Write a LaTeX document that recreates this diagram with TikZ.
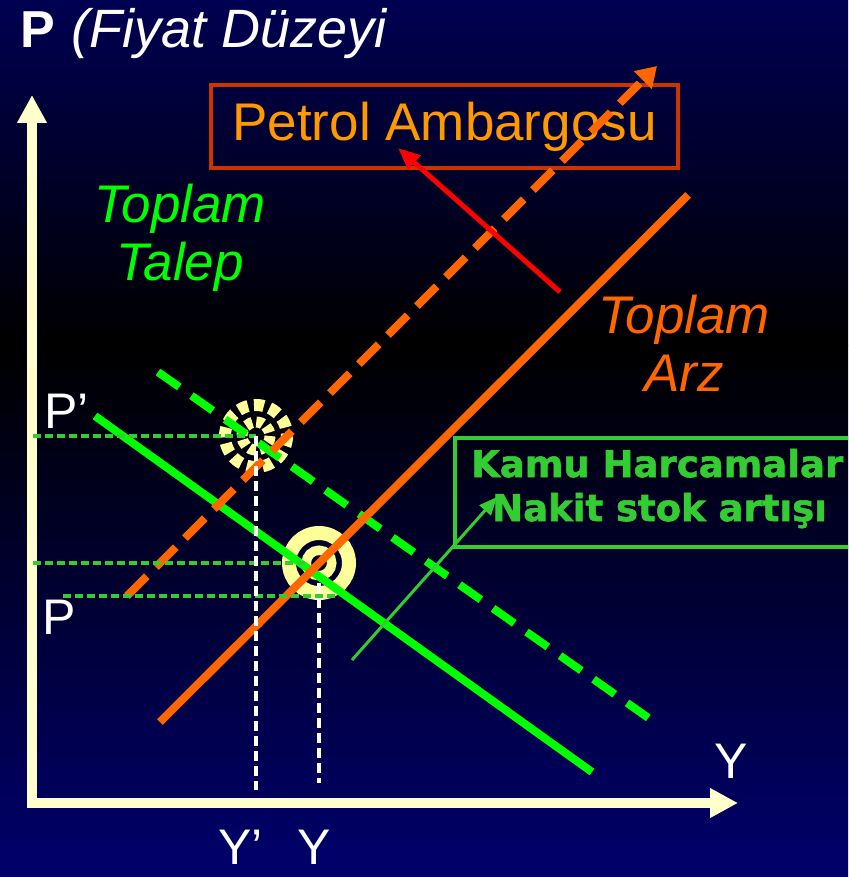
\documentclass[tikz,border=0pt]{standalone}
\usepackage{fontspec}
\setmainfont{Liberation Sans}
\newfontfamily\kamufont[FakeBold=1.5]{DejaVu Sans Bold}
\usetikzlibrary{arrows.meta}
\definecolor{navytop}{RGB}{0,0,82}
\definecolor{navybot}{RGB}{0,0,108}
\definecolor{cream}{RGB}{255,255,204}
\definecolor{ringyellow}{RGB}{255,255,153}
\definecolor{brightgreen}{RGB}{0,255,0}
\definecolor{kamugreen}{RGB}{51,204,51}
\definecolor{arzorange}{RGB}{255,102,0}
\definecolor{petrolorange}{RGB}{255,153,0}
\definecolor{boxred}{RGB}{204,51,0}

\begin{document}
\begin{tikzpicture}[x=1pt, y=-1pt,
    axis/.style={cream, line width=10pt, {Triangle[length=28pt,width=28pt]}-{Triangle[length=28pt,width=28pt]}},
    curve/.style={line width=8pt},
    guide/.style={kamugreen, line width=4pt, dash pattern=on 8pt off 4pt},
    drop/.style={white, line width=4pt, dash pattern=on 10pt off 5pt},
    lbl/.style={white, inner sep=0pt, anchor=base west, font=\fontsize{50}{55}\selectfont},
    bigtext/.style={inner sep=0pt, align=center, font=\fontsize{53}{58}\selectfont\itshape},
    kamutext/.style={text=kamugreen, inner sep=0pt, anchor=base west, font=\kamufont\fontsize{37}{40}\selectfont}]
    % Background
    \useasboundingbox (0,0) rectangle (848,877);
    \clip (0,0) rectangle (848,877);
    \shade[top color=navytop, bottom color=black] (0,0) rectangle (848,345);
    \shade[top color=black, bottom color=navybot] (0,345) rectangle (848,877);

    % Points
    \coordinate (ptip) at (32,95);
    \coordinate (ytip) at (738,803);
    \coordinate (as1) at (160,722);
    \coordinate (as2) at (688,195);
    \coordinate (asd1) at (127,596);
    \coordinate (asd2) at (657,66);
    \coordinate (ad1) at (95,416);
    \coordinate (ad2) at (592,772);
    \coordinate (add1) at (158,372);
    \coordinate (add2) at (657,724);
    \coordinate (e) at (319,563);
    \coordinate (ep) at (256,436);

    % Equilibrium rings
    \draw[ringyellow, line width=14pt] (e) circle[radius=30];
    \draw[ringyellow, line width=9.5pt] (e) circle[radius=12.75];
    \draw[ringyellow, line width=12pt, dash pattern=on 10pt off 6pt] (ep) circle[radius=31];
    \draw[ringyellow, line width=11pt, dash pattern=on 7pt off 4pt] (ep) circle[radius=14];

    % Axes
    \draw[axis] (ptip) |- (ytip);

    % Petrol box
    \node[draw=boxred, line width=4.5pt, minimum width=467pt, minimum height=83pt, inner sep=0pt,
          text=petrolorange, font=\fontsize{53}{58}\selectfont] (petrol) at (444.5,126.5) {Petrol Ambargosu};

    % Curves
    \draw[curve, brightgreen] (ad1) -- (ad2);
    \draw[curve, brightgreen, dash pattern=on 26pt off 15pt] (add1) -- (add2);
    \draw[curve, arzorange] (as1) -- (as2);
    \draw[curve, arzorange, dash pattern=on 28pt off 13pt, -{Triangle[length=20pt,width=24pt]}] (asd1) -- (asd2);

    % Shock arrows
    \coordinate (rs) at (560,292);
    \coordinate (rt) at (398,148);
    \draw[red, line width=5pt, -{Triangle[length=22pt,width=18pt]}] (rs) -- (rt);

    % Guide lines
    \coordinate (g1) at (33,436);
    \coordinate (g2) at (33,563);
    \coordinate (g3) at (306,563);
    \coordinate (g4) at (63,596);
    \coordinate (g5) at (337,596);
    \coordinate (v1) at (256,790);
    \coordinate (v2) at (319,583);
    \coordinate (v3) at (319,783);
    \draw[guide] (g1) -- (ep);
    \draw[guide] (g2) -- (g3);
    \draw[guide] (g4) -- (g5);
    \draw[drop] (ep) -- (v1);
    \draw[drop] (v2) -- (v3);

    % Kamu box
    \draw[kamugreen, line width=4pt] (455,438) rectangle (900,547);
    \node[kamutext] (kamu1) at (471,477) {Kamu Harcamalar};
    \node[kamutext] (kamu2) at (492,521) {Nakit stok artışı};
    \coordinate (ks) at (352,660);
    \coordinate (kt) at (497,497);
    \draw[kamugreen, line width=3pt, -{Triangle[length=18pt,width=15pt]}] (ks) -- (kt);

    % Labels
    \node[white, inner sep=0pt, anchor=base west, font=\fontsize{52}{56}\selectfont] (title) at (20,48) {\bfseries P\hspace{17pt}\mdseries\fontsize{54}{58}\selectfont\itshape(Fiyat Düzeyi};
    \node[bigtext, text=brightgreen] (talep) at (180,238) {Toplam\\Talep};
    \node[bigtext, text=arzorange] (arz) at (684,343) {Toplam\\Arz};
    \node[lbl] (lblpp) at (44,428) {P’};
    \node[lbl] (lblp) at (42,634) {P};
    \node[lbl] (lblyp) at (218,864) {Y’};
    \node[lbl] (lbly) at (297,864) {Y};
    \node[lbl] (lblyaxis) at (714,778) {Y};
\end{tikzpicture}
\end{document}
